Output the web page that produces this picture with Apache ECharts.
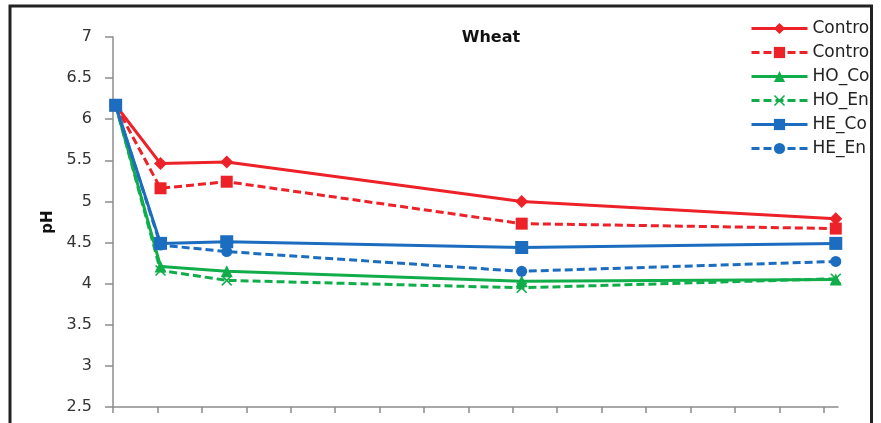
<!DOCTYPE html>
<html>
<head>
<meta charset="utf-8">
<script src="https://cdn.jsdelivr.net/npm/echarts@6/dist/echarts.min.js"></script>
<style>
html,body{margin:0;padding:0;background:#fff;}
#chart{width:881px;height:423px;}
</style>
</head>
<body>
<div id="chart"></div>
<script>
// ---- data ----
var xValues = [0.06, 1.07, 2.56, 9.2, 16.27];
var controlCo = [6.17, 5.46, 5.48, 5.00, 4.79];
var controlEn = [6.17, 5.16, 5.24, 4.73, 4.67];
var hoCo = [6.17, 4.21, 4.15, 4.03, 4.05];
var hoEn = [6.17, 4.16, 4.04, 3.95, 4.06];
var heCo = [6.17, 4.49, 4.51, 4.44, 4.49];
var heEn = [6.17, 4.47, 4.39, 4.15, 4.27];
var seriesNames = ['Control_Co', 'Control_En', 'HO_Co', 'HO_En', 'HE_Co', 'HE_En'];
var xTicks = [0, 1, 2, 3, 4, 5, 6, 7, 8, 9, 10, 11, 12, 13, 14, 15, 16];
var yTicks = [2.5, 3, 3.5, 4, 4.5, 5, 5.5, 6, 6.5, 7];

var RED = '#ED2128', GREEN = '#12AD4B', BLUE = '#1C6DBF';
var X_SYMBOL = 'path://M0,1 L1,0 L5,4 L9,0 L10,1 L6,5 L10,9 L9,10 L5,6 L1,10 L0,9 L4,5 Z';

function pairs(ys) { return xValues.map(function (x, i) { return [x, ys[i]]; }); }
function mk(name, ys, color, dashed, symbol, size) {
  return {
    name: name, type: 'line', data: pairs(ys), clip: false,
    symbol: symbol, symbolSize: size, showSymbol: true,
    lineStyle: { color: color, width: 3, type: dashed ? [8, 4] : 'solid' },
    itemStyle: { color: color },
    emphasis: { disabled: true }
  };
}

var chart = echarts.init(document.getElementById('chart'), null, { renderer: 'canvas' });
chart.setOption({
  animation: false,
  backgroundColor: '#fff',
  textStyle: { fontFamily: 'DejaVu Sans' },
  title: {
    text: 'Wheat', left: 486, top: 25, textAlign: 'center',
    textStyle: { fontFamily: 'DejaVu Sans', fontWeight: 'bold', fontSize: 16, color: '#111' }
  },
  legend: {
    orient: 'vertical', left: 745, top: 15,
    itemWidth: 56, itemHeight: 14, itemGap: 7,
    data: seriesNames,
    lineStyle: { width: 3 },
    textStyle: { fontFamily: 'DejaVu Sans', fontSize: 17, color: '#222', padding: [0, 0, 0, 0] }
  },
  grid: { left: 113, top: 37, right: 43, bottom: 16, containLabel: false },
  xAxis: {
    type: 'value', min: 0, max: 16.32, interval: 1,
    axisLine: { lineStyle: { color: '#8c8c8c', width: 1.5 } },
    axisTick: { show: true, length: 6, customValues: xTicks, lineStyle: { color: '#8c8c8c', width: 1.5 } },
    axisLabel: { show: false },
    splitLine: { show: false }
  },
  yAxis: {
    type: 'value', min: 2.5, max: 7, interval: 0.5,
    name: 'pH', nameLocation: 'middle', nameGap: 55, nameRotate: 90,
    nameTextStyle: { fontFamily: 'DejaVu Sans', fontWeight: 'bold', fontSize: 15, color: '#111' },
    axisLine: { show: true, lineStyle: { color: '#8c8c8c', width: 1.5 } },
    axisTick: { show: true, length: 8, customValues: yTicks, lineStyle: { color: '#8c8c8c', width: 1.5 } },
    axisLabel: { margin: 21, fontSize: 16, color: '#333', fontFamily: 'DejaVu Sans', customValues: yTicks },
    splitLine: { show: false }
  },
  graphic: [
    { type: 'rect', z: 100, shape: { x: 873, y: 0, width: 20, height: 423 }, style: { fill: '#fff' } },
    { type: 'rect', z: 101, shape: { x: 10, y: 6, width: 861.5, height: 430 }, style: { fill: 'none', stroke: '#222', lineWidth: 3 } }
  ],
  series: [
    mk(seriesNames[0], controlCo, RED, false, 'diamond', 13),
    mk(seriesNames[1], controlEn, RED, true, 'rect', 12),
    mk(seriesNames[2], hoCo, GREEN, false, 'triangle', 12),
    mk(seriesNames[3], hoEn, GREEN, true, X_SYMBOL, 11),
    mk(seriesNames[5], heEn, BLUE, true, 'circle', 11),
    mk(seriesNames[4], heCo, BLUE, false, 'rect', 13)
  ]
});
</script>
</body>
</html>
